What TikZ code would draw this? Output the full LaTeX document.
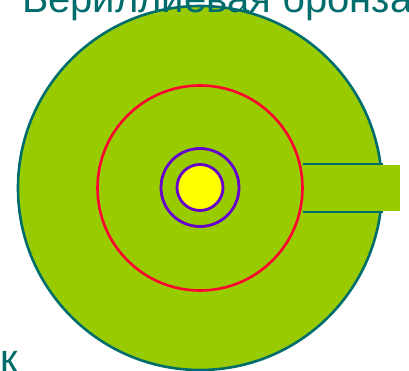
\documentclass[tikz,border=0pt]{standalone}
\usepackage{fontspec}
\setmainfont{Liberation Sans}
\definecolor{leaf}{HTML}{99CC00}
\definecolor{teal2}{HTML}{006C6C}
\definecolor{redl}{HTML}{FF0033}
\definecolor{purp}{HTML}{6600CC}
\definecolor{yel}{HTML}{FFFF00}
\begin{document}
\begin{tikzpicture}[x=1pt,y=-1pt,
  txt/.style={text=teal2,font=\fontsize{40}{40}\selectfont,inner sep=0pt,anchor=base west}]
\useasboundingbox (0,0) rectangle (409,371);
\clip (0,0) rectangle (409,371);
\node[circle,draw=teal2,fill=leaf,line width=2.6pt,minimum size=364pt,inner sep=0pt] (big) at (200,188) {};
\node[fill=leaf,inner sep=0pt,minimum width=100pt,minimum height=46pt,anchor=west] (tab) at (300,188) {};
\node[circle,draw=redl,line width=2.6pt,minimum size=205pt,inner sep=0pt] (red) at (200,188) {};
\node[circle,draw=purp,line width=2.8pt,minimum size=78pt,inner sep=0pt] (ring) at (200,187.5) {};
\node[circle,draw=purp,fill=yel,line width=2.8pt,minimum size=46pt,inner sep=0pt] (core) at (200,187.5) {};
\coordinate (t1) at (383,164);
\coordinate (t2) at (383,212);
\draw[teal2,line width=2.6pt] (red.east |- t1) ++(-1,0) -- (t1);
\draw[teal2,line width=2.6pt] (red.east |- t2) ++(-1,0) -- (t2);
\node[txt] (title) at (22,13) {Бериллиевая бронза};
\node[txt] (k) at (0,372) {к};
\end{tikzpicture}
\end{document}
